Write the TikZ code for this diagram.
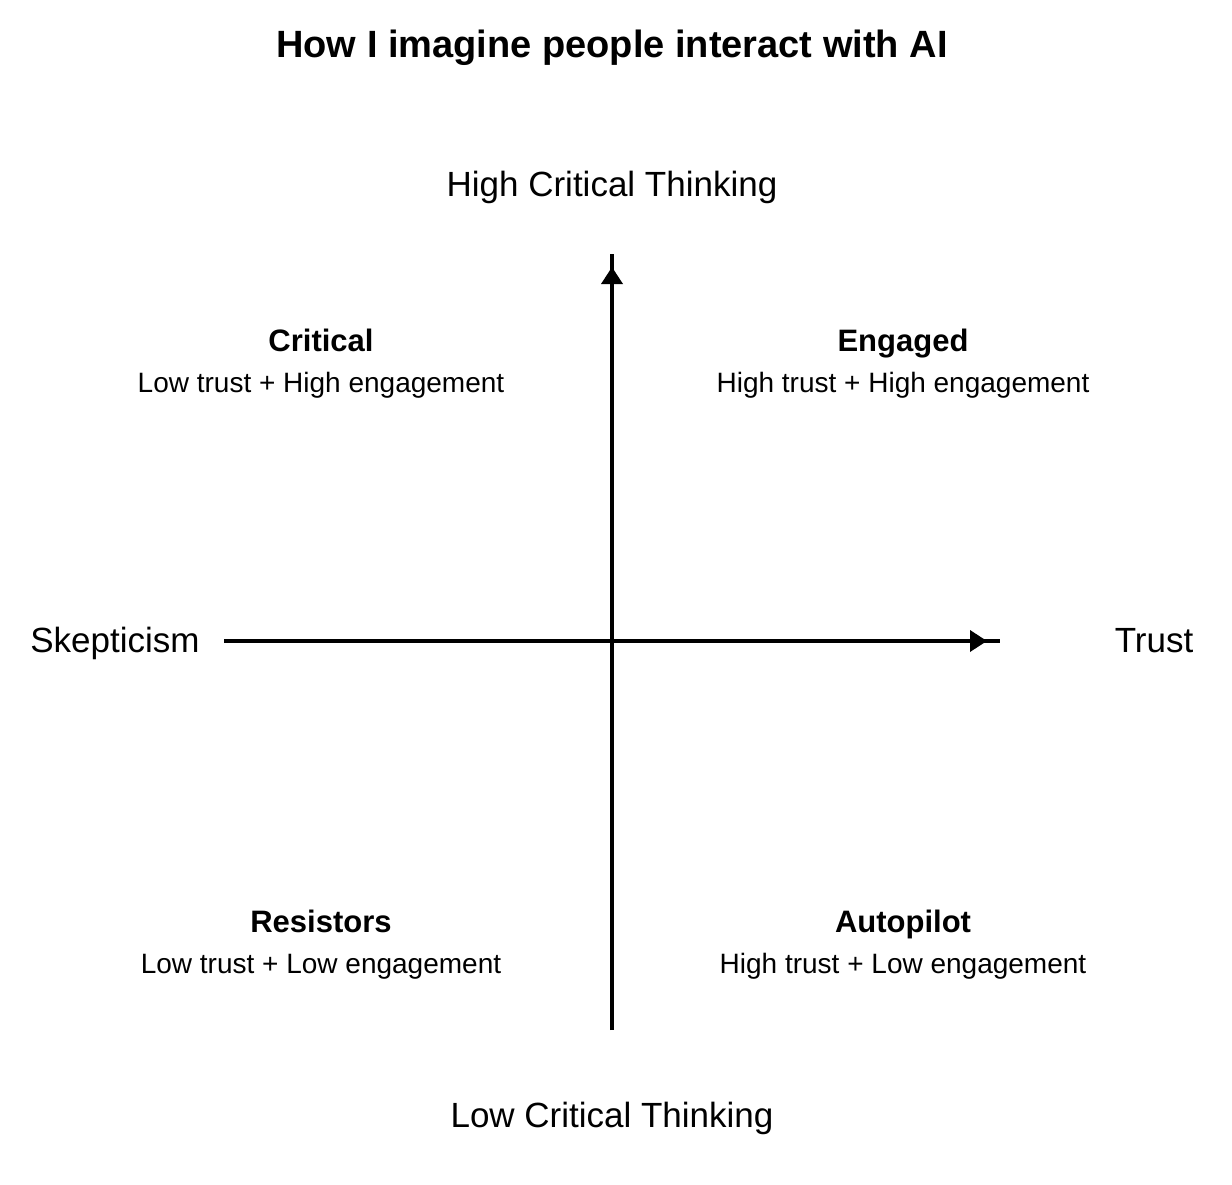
\documentclass[tikz,border=0pt]{standalone}
\usepackage{fontspec}
\setmainfont{Liberation Sans}
\usetikzlibrary{arrows.meta}

\tikzset{
    axislabel/.style={anchor=base, inner sep=0pt, font=\fontsize{17.5}{21}\selectfont},
    quadname/.style={anchor=base, inner sep=0pt, font=\bfseries\fontsize{15.5}{19}\selectfont},
    quaddesc/.style={anchor=base, inner sep=0pt, font=\fontsize{14}{17}\selectfont},
    axisline/.style={line width=1.8pt},
    axistip/.style={-{Triangle[length=8.5pt,width=10.5pt]}, line width=1.8pt},
}

\begin{document}
\begin{tikzpicture}[x=0.5pt, y=-0.5pt]
    \useasboundingbox (0,0) rectangle (1232,1184);

    % 标题
    \node[anchor=base, inner sep=0pt, font=\bfseries\fontsize{19}{23}\selectfont]
        (title) at (612,57) {How I imagine people interact with AI};

    % 坐标轴 (箭头在线端之前)
    \coordinate (origin)   at (612,641);
    \coordinate (top)      at (612,254);
    \coordinate (toptip)   at (612,267);
    \coordinate (bottom)   at (612,1030);
    \coordinate (left)     at (224,641);
    \coordinate (right)    at (1000,641);
    \coordinate (righttip) at (987,641);
    \draw[axisline] (bottom) -- (top);
    \draw[axisline] (left) -- (right);
    \draw[axistip] (origin) -- (toptip);
    \draw[axistip] (origin) -- (righttip);

    % 轴标签
    \node[axislabel] (high)  at (612,196)  {High Critical Thinking};
    \node[axislabel] (low)   at (612,1127) {Low Critical Thinking};
    \node[axislabel] (skep)  at (115,652)  {Skepticism};
    \node[axislabel] (trust) at (1154,652) {Trust};

    % 四个象限
    \node[quadname] (critical)       at (321,351) {Critical};
    \node[quaddesc] (critical-desc)  at (321,392) {Low trust + High engagement};
    \node[quadname] (engaged)        at (903,351) {Engaged};
    \node[quaddesc] (engaged-desc)   at (903,392) {High trust + High engagement};
    \node[quadname] (resistors)      at (321,932) {Resistors};
    \node[quaddesc] (resistors-desc) at (321,973) {Low trust + Low engagement};
    \node[quadname] (autopilot)      at (903,932) {Autopilot};
    \node[quaddesc] (autopilot-desc) at (903,973) {High trust + Low engagement};
\end{tikzpicture}
\end{document}
